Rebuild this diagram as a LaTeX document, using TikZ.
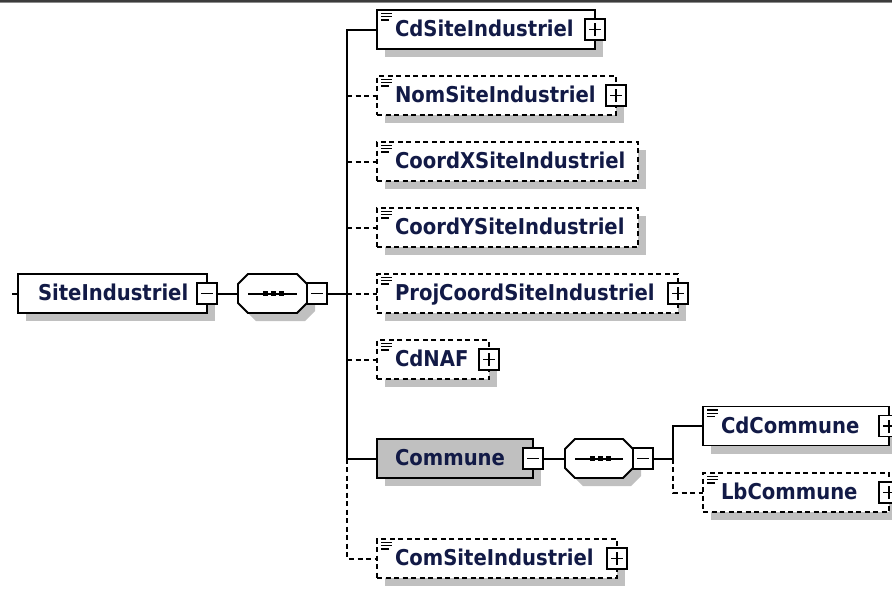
\documentclass[tikz,border=0pt]{standalone}
\usepackage{fontspec}
\setmainfont{DejaVu Sans Condensed}
\usetikzlibrary{calc,shadows}

\definecolor{shadowgray}{RGB}{192,192,192}
\definecolor{ink}{RGB}{18,26,70}
\definecolor{rule}{RGB}{60,60,60}

\tikzset{
  link/.style={draw=black, line width=2pt},
  opt/.style={dash pattern=on 5pt off 3.5pt},
  elem/.style={draw=black, line width=1.9pt, fill=white, rectangle,
    minimum height=39pt, inner sep=0pt, outer sep=0pt, anchor=west,
    drop shadow={shadow xshift=8pt, shadow yshift=-8pt, fill=shadowgray, opacity=1}},
  optelem/.style={elem, opt},
  complexelem/.style={elem, fill=shadowgray},
  lbl/.style={font=\bfseries\fontsize{21.8}{26}\selectfont, text=ink,
    anchor=base west, inner sep=0pt, outer sep=0pt},
  tog/.style={draw=black, line width=1.5pt, fill=white, rectangle,
    minimum width=20pt, minimum height=21pt, inner sep=0pt, outer sep=0pt},
  minusbox/.style={tog, path picture={
    \draw[line width=1.4pt] ([xshift=4pt]path picture bounding box.west) --
      ([xshift=-4pt]path picture bounding box.east);}},
  plusbox/.style={tog, path picture={
    \draw[line width=1.4pt] ([xshift=4pt]path picture bounding box.west) --
      ([xshift=-4pt]path picture bounding box.east);
    \draw[line width=1.4pt] ([yshift=4pt]path picture bounding box.south) --
      ([yshift=-4pt]path picture bounding box.north);}},
  seqframe/.style={rectangle, draw=none, minimum width=69pt, minimum height=39pt,
    inner sep=0pt, outer sep=0pt},
}

% the small "simple type" glyph in the top left corner of an element box
\newcommand\typeglyph[1]{%
  \draw[line width=1.2pt] ($(#1.north west)+(4,3.5)$) -- ++(11,0);
  \draw[line width=1.2pt] ($(#1.north west)+(4,6.8)$) -- ++(11,0);
  \draw[line width=1.2pt] ($(#1.north west)+(4,10)$) -- ++(8,0);
}

% octagonal sequence compositor with its shadow and the dotted bar
\newcommand\seqcompositor[1]{%
  \fill[shadowgray] ($(#1.north west)+(18,8)$) -- ($(#1.north east)+(-2,8)$) --
    ($(#1.north east)+(8,18)$) -- ($(#1.south east)+(8,-2)$) --
    ($(#1.south east)+(-2,8)$) -- ($(#1.south west)+(18,8)$) --
    ($(#1.south west)+(8,-2)$) -- ($(#1.north west)+(8,18)$) -- cycle;
  \draw[link, line width=1.9pt, fill=white] ($(#1.north west)+(10,0)$) -- ($(#1.north east)+(-10,0)$) --
    ($(#1.north east)+(0,10)$) -- ($(#1.south east)+(0,-10)$) --
    ($(#1.south east)+(-10,0)$) -- ($(#1.south west)+(10,0)$) --
    ($(#1.south west)+(0,-10)$) -- ($(#1.north west)+(0,10)$) -- cycle;
  \draw[link] ($(#1.west)+(10,0)$) -- ($(#1.east)+(-10,0)$);
  \foreach \dx in {-8,0,8}
    \fill ($(#1.center)+(\dx-1.5,-2.5)$) rectangle ++(5,5);
}

\begin{document}
\begin{tikzpicture}[x=1pt,y=-1pt]
\useasboundingbox (0,0) rectangle (892,592);

% frame rule along the top
\draw[line width=1.4pt, rule] (0,1) -- (892,1);
\draw[line width=1pt, black!45] (0,2.6) -- (892,2.6);

% root element
\node[elem, minimum width=189pt] (site) at (18,293.5) {};
\node[lbl] (site-l) at ($(site.west)+(20,7.2)$) {SiteIndustriel};
\node[minusbox] (site-t) at (site.east) {};

% first sequence
\node[seqframe] (seqA) at (272.5,293.5) {};
\seqcompositor{seqA}
\node[minusbox, anchor=west] (seqA-t) at (seqA.east) {};

% children of the first sequence
\node[elem, minimum width=218pt] (cd) at (377,29.5) {};
\node[lbl] (cd-l) at ($(cd.west)+(18,7.2)$) {CdSiteIndustriel};
\node[plusbox] (cd-t) at (cd.east) {};

\node[optelem, minimum width=239pt] (nom) at (377,95.5) {};
\node[lbl] (nom-l) at ($(nom.west)+(18,7.2)$) {NomSiteIndustriel};
\node[plusbox] (nom-t) at (nom.east) {};

\node[optelem, minimum width=261pt] (cx) at (377,161.5) {};
\node[lbl] (cx-l) at ($(cx.west)+(18,7.2)$) {CoordXSiteIndustriel};

\node[optelem, minimum width=261pt] (cy) at (377,227.5) {};
\node[lbl] (cy-l) at ($(cy.west)+(18,7.2)$) {CoordYSiteIndustriel};

\node[optelem, minimum width=301pt] (proj) at (377,293.5) {};
\node[lbl] (proj-l) at ($(proj.west)+(18,7.2)$) {ProjCoordSiteIndustriel};
\node[plusbox] (proj-t) at (proj.east) {};

\node[optelem, minimum width=112pt] (naf) at (377,359.5) {};
\node[lbl] (naf-l) at ($(naf.west)+(18,7.2)$) {CdNAF};
\node[plusbox] (naf-t) at (naf.east) {};

\node[complexelem, minimum width=156pt] (commune) at (377,458.5) {};
\node[lbl] (commune-l) at ($(commune.west)+(18,7.2)$) {Commune};
\node[minusbox] (commune-t) at (commune.east) {};

\node[optelem, minimum width=240pt] (com) at (377,558.5) {};
\node[lbl] (com-l) at ($(com.west)+(18,7.2)$) {ComSiteIndustriel};
\node[plusbox] (com-t) at (com.east) {};

% second sequence, inside Commune
\node[seqframe, minimum width=68pt] (seqB) at (599,458.5) {};
\seqcompositor{seqB}
\node[minusbox, anchor=west] (seqB-t) at (seqB.east) {};

\node[elem, minimum width=186pt] (cdc) at (703,426) {};
\node[lbl] (cdc-l) at ($(cdc.west)+(18,7.2)$) {CdCommune};
\node[plusbox] (cdc-t) at (cdc.east) {};

\node[optelem, minimum width=186pt] (lbc) at (703,492.5) {};
\node[lbl] (lbc-l) at ($(lbc.west)+(18,7.2)$) {LbCommune};
\node[plusbox] (lbc-t) at (lbc.east) {};

% type glyphs
\foreach \n in {cd,nom,cx,cy,proj,naf,com,cdc,lbc} {\typeglyph{\n}}

% connectors
\coordinate (stub) at (12,293.5);
\coordinate (busA) at (347,293.5);
\coordinate (busB) at (673,458.5);

\draw[link] (stub) -- (site.west);
\draw[link] (site-t.east) -- (seqA.west);
\draw[link] (seqA-t.east) -- (busA);
\draw[link] (cd.west) -- (cd.west -| busA) -- (commune.west -| busA) -- (commune.west);
\draw[link, opt] (commune.west -| busA) -- (com.west -| busA) -- (com.west);
\foreach \n in {nom,cx,cy,proj,naf}
  \draw[link, opt] (\n.west -| busA) -- (\n.west);

\draw[link] (commune-t.east) -- (seqB.west);
\draw[link] (seqB-t.east) -- (busB);
\draw[link] (cdc.west) -- (cdc.west -| busB) -- (busB);
\draw[link, opt] (busB) -- (lbc.west -| busB) -- (lbc.west);

\end{tikzpicture}
\end{document}
